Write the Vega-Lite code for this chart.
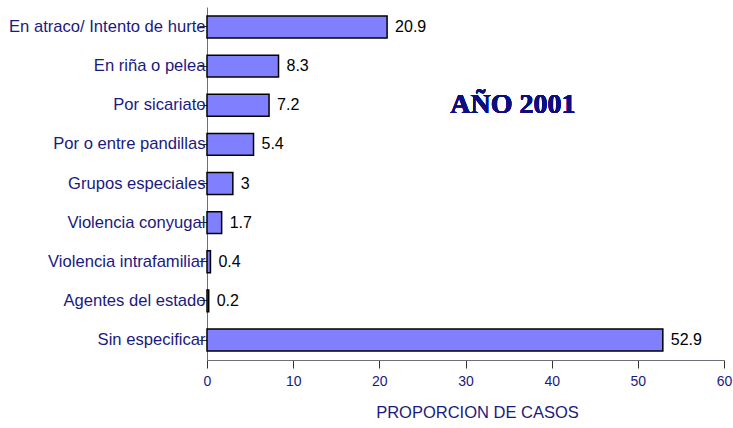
{
  "$schema": "https://vega.github.io/schema/vega-lite/v6.json",
  "autosize": "none",
  "width": 517,
  "height": 353,
  "padding": {"left": 207, "top": 7, "right": 9, "bottom": 68},
  "background": "white",
  "config": {"view": {"stroke": null}, "font": "Liberation Sans"},
  "data": {
    "values": [
      {"causa": "En atraco/ Intento de hurte", "proporcion": 20.9},
      {"causa": "En riña o pelea", "proporcion": 8.3},
      {"causa": "Por sicariato", "proporcion": 7.2},
      {"causa": "Por o entre pandillas", "proporcion": 5.4},
      {"causa": "Grupos especiales", "proporcion": 3},
      {"causa": "Violencia conyugal", "proporcion": 1.7},
      {"causa": "Violencia intrafamiliar", "proporcion": 0.4},
      {"causa": "Agentes del estado", "proporcion": 0.2},
      {"causa": "Sin especificar", "proporcion": 52.9}
    ]
  },
  "encoding": {
    "y": {
      "field": "causa",
      "type": "nominal",
      "sort": null,
      "scale": {"paddingInner": 0.44, "paddingOuter": 0.23},
      "axis": {
        "title": null,
        "labelFont": "Liberation Sans",
        "labelFontSize": 16.6,
        "labelColor": "#1a1a80",
        "labelPadding": -6,
        "tickSize": 8,
        "tickColor": "#333333",
        "domainColor": "#6e6e80",
        "labelLimit": 300
      }
    },
    "x": {
      "field": "proporcion",
      "type": "quantitative",
      "scale": {"domain": [0, 60], "nice": false},
      "axis": {
        "title": "PROPORCION DE CASOS",
        "titleFont": "Liberation Sans",
        "titleFontSize": 16.5,
        "titleFontWeight": "normal",
        "titleColor": "#1a1a80",
        "titleX": 270,
        "titleAlign": "center",
        "titlePadding": 16,
        "values": [0, 10, 20, 30, 40, 50, 60],
        "grid": false,
        "labelFont": "Liberation Sans",
        "labelFontSize": 14,
        "labelColor": "#1a1a80",
        "labelPadding": 6,
        "tickSize": 8,
        "tickColor": "#333333",
        "domainColor": "#6e6e80",
        "labelFlush": false
      }
    }
  },
  "layer": [
    {
      "mark": {"type": "bar", "fill": "#8080ff", "stroke": "black", "strokeWidth": 1.5}
    },
    {
      "mark": {"type": "text", "align": "left", "dx": 8, "font": "Liberation Sans", "fontSize": 16, "fill": "black"},
      "encoding": {"text": {"field": "proporcion", "type": "quantitative"}}
    },
    {
      "mark": {"type": "text", "align": "center", "baseline": "middle", "font": "Liberation Serif", "fontWeight": "bold", "fontSize": 28, "fill": "#0d0d80"},
      "encoding": {
        "x": {"datum": 35.5},
        "y": {"datum": "Por sicariato"},
        "text": {"value": "AÑO 2001"}
      }
    }
  ]
}
